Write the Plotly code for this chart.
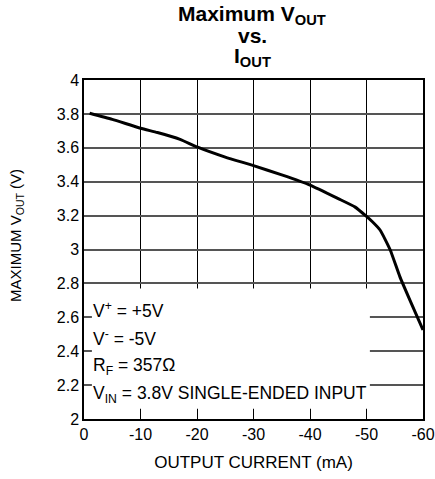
import plotly.graph_objects as go

# Data
current_ma = [-1, -5, -10, -13, -17, -20, -25, -30, -35, -40, -45, -48, -50, -51, -52.4, -54.2, -55.9, -57.7, -60]
vout_max = [3.804, 3.768, 3.715, 3.690, 3.650, 3.605, 3.545, 3.495, 3.44, 3.38, 3.30, 3.25, 3.195, 3.165, 3.115, 2.997, 2.84, 2.70, 2.525]

x_tickvals = [0, -10, -20, -30, -40, -50, -60]
x_ticktext = ["0", "-10", "-20", "-30", "-40", "-50", "-60"]
y_tickvals = [2, 2.2, 2.4, 2.6, 2.8, 3, 3.2, 3.4, 3.6, 3.8, 4]
y_ticktext = ["2", "2.2", "2.4", "2.6", "2.8", "3", "3.2", "3.4", "3.6", "3.8", "4"]

notes = ["V<sup>+</sup> = +5V", "V<sup>-</sup> = -5V", "R<sub>F</sub> = 357Ω",
         "V<sub>IN</sub> = 3.8V SINGLE-ENDED INPUT"]
note_y = [2.643, 2.478, 2.307, 2.142]

title_lines = ["<b>Maximum V<sub>OUT</sub></b>", "<b>vs.</b>", "<b>I<sub>OUT</sub></b>"]
title_y = [1.1917, 1.1327, 1.0678]

font = "Liberation Sans, Arial, sans-serif"

fig = go.Figure()
fig.add_trace(go.Scatter(x=current_ma, y=vout_max, mode="lines",
                         line=dict(color="black", width=3, shape="spline", smoothing=0.5),
                         showlegend=False, hoverinfo="skip"))

fig.add_shape(type="rect", xref="x", yref="y", x0=-1.4, x1=-50.6, y0=2.06, y1=2.77,
              fillcolor="white", line=dict(width=0), layer="between")

for t, yy in zip(notes, note_y):
    fig.add_annotation(x=-1.2, y=yy, xref="x", yref="y", text=t, showarrow=False,
                       xanchor="left", yanchor="middle",
                       font=dict(family=font, size=17.5, color="black"))

for t, yy in zip(title_lines, title_y):
    fig.add_annotation(x=0.4956, y=yy, xref="paper", yref="paper", text=t, showarrow=False,
                       xanchor="center", yanchor="middle",
                       font=dict(family=font, size=21, color="black"))

fig.add_annotation(x=-0.1976, y=0.54, xref="paper", yref="paper",
                   text="MAXIMUM V<sub>OUT</sub> (V)", textangle=-90, showarrow=False,
                   xanchor="center", yanchor="middle",
                   font=dict(family=font, size=15, color="black"))

fig.update_layout(
    template="none",
    width=435, height=479,
    margin=dict(l=84, r=12, t=80, b=60),
    paper_bgcolor="white", plot_bgcolor="white",
    font=dict(family=font, size=16, color="black"),
    showlegend=False,
    xaxis=dict(range=[0, -60], tickvals=x_tickvals, ticktext=x_ticktext,
               automargin=False,
               showgrid=True, gridcolor="black", gridwidth=1,
               showline=True, linecolor="black", linewidth=1.5, mirror=True,
               ticks="", zeroline=False,
               tickfont=dict(family=font, size=16),
               title=dict(text="OUTPUT CURRENT (mA)", standoff=14,
                          font=dict(family=font, size=17))),
    yaxis=dict(range=[2, 4], tickvals=y_tickvals, ticktext=y_ticktext,
               automargin=False,
               showgrid=True, gridcolor="#555555", gridwidth=1.5,
               showline=True, linecolor="black", linewidth=1.5, mirror=True,
               ticks="", zeroline=False,
               tickfont=dict(family=font, size=16)),
)

fig.write_html("out.html")
